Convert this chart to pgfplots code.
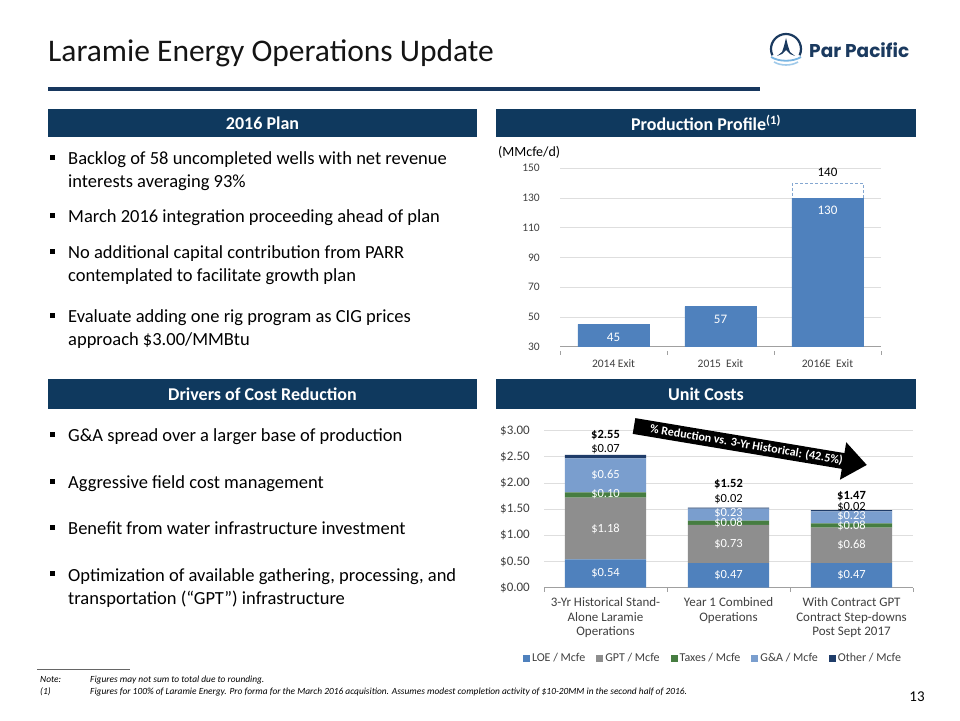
\documentclass[border=0pt]{standalone}
\usepackage{pgfplots}
\pgfplotsset{compat=1.18}
\usepackage{fontspec}
\setmainfont{Carlito}
\newfontfamily\logofont{Poppins}
\definecolor{navy}{RGB}{15,57,94}
\definecolor{titleline}{RGB}{23,55,94}
\definecolor{logonavy}{RGB}{27,58,95}
\definecolor{logolight}{RGB}{120,180,225}
\definecolor{barblue}{RGB}{79,129,189}
\definecolor{loe}{RGB}{79,129,189}
\definecolor{gpt}{RGB}{142,142,142}
\definecolor{tax}{RGB}{70,125,65}
\definecolor{ga}{RGB}{122,158,206}
\definecolor{oth}{RGB}{31,60,105}
\definecolor{gridgray}{RGB}{222,222,222}
\definecolor{axgray}{RGB}{160,160,160}
\definecolor{tickgray}{RGB}{64,64,64}
\newcommand{\fs}[2]{\fontsize{#1}{#2}\selectfont}
\tikzset{
  vl/.style={font=\fontsize{12.5}{14}\selectfont, text=white, inner sep=0pt},
  vb/.style={font=\fontsize{12.5}{14}\selectfont, text=black, inner sep=0pt},
  vt/.style={font=\bfseries\fontsize{12.5}{14}\selectfont, text=black, inner sep=0pt},
  bt/.style={anchor=base west, inner sep=0pt, font=\fontsize{18.5}{22}\selectfont},
  hd/.style={text=white, font=\bfseries\fontsize{18}{21}\selectfont},
  fn/.style={anchor=base west, inner sep=0pt, font=\itshape\fontsize{9.4}{11}\selectfont}
}
\pgfplotsset{sqlegend/.style={legend image code/.code={\fill[##1] (0pt,-3.5pt) rectangle (7pt,3.5pt);}}}
\begin{document}
\begin{tikzpicture}[x=1pt,y=1pt]
\fill[white] (0,0) rectangle (960,720);
% Title
\node[anchor=base west, inner sep=0, font=\fs{31.5}{36}, text=black!92] at (48,720-62) {Laramie Energy Operations Update};
\fill[titleline] (48,720-87) rectangle (760,720-91);
% Logo
\draw[logonavy, line width=2.2pt] (786,720-49) ++(205:15) arc (205:-25:15);
\fill[logonavy] (777,720-56) -- (782,720-52) -- (784,720-46) -- (786,720-38) -- (788,720-46) -- (790,720-52) -- (795,720-56) -- (790,720-54) -- (786,720-50) -- (782,720-54) -- cycle;
\draw[logolight, line width=1.8pt] (771,720-57) .. controls (779,720-62) and (793,720-62) .. (801,720-57);
\draw[logolight!70, line width=1.6pt] (774,720-62) .. controls (781,720-66) and (791,720-66) .. (798,720-62);
\node[anchor=base west, inner sep=0, font=\logofont\bfseries\fs{18.5}{21}, text=logonavy] at (809,720-58) {Par Pacific};
% Header boxes
\fill[navy] (48,720-109) rectangle (477,720-137);
\node[hd] at (262.5,720-123) {2016 Plan};
\fill[navy] (496,720-109) rectangle (916,720-137);
\node[hd] at (706,720-123) {Production Profile\textsuperscript{(1)}};
\fill[navy] (48,720-379) rectangle (477,720-409);
\node[hd] at (262.5,720-394) {Drivers of Cost Reduction};
\fill[navy] (496,720-379) rectangle (916,720-409);
\node[hd] at (706,720-394) {Unit Costs};
% Bullets (2016 Plan)
\fill (50,720-160) rectangle +(5,5);
\node[bt] at (68,720-165) {Backlog of 58 uncompleted wells with net revenue};
\node[bt] at (68,720-188) {interests averaging 93\%};
\fill (50,720-218) rectangle +(5,5);
\node[bt] at (68,720-223) {March 2016 integration proceeding ahead of plan};
\fill (50,720-254) rectangle +(5,5);
\node[bt] at (68,720-259) {No additional capital contribution from PARR};
\node[bt] at (68,720-282) {contemplated to facilitate growth plan};
\fill (50,720-318) rectangle +(5,5);
\node[bt] at (68,720-323) {Evaluate adding one rig program as CIG prices};
\node[bt] at (68,720-346) {approach \$3.00/MMBtu};
% Drivers
\fill (50,720-437) rectangle +(5,5);
\node[bt] at (68,720-442) {G\&A spread over a larger base of production};
\fill (50,720-484) rectangle +(5,5);
\node[bt] at (68,720-489) {Aggressive field cost management};
\fill (50,720-530) rectangle +(5,5);
\node[bt] at (68,720-535) {Benefit from water infrastructure investment};
\fill (50,720-576) rectangle +(5,5);
\node[bt] at (68,720-581) {Optimization of available gathering, processing, and};
\node[bt] at (68,720-604) {transportation (“GPT”) infrastructure};
% Production profile chart
\node[anchor=west, inner sep=0, font=\fs{14}{16}] at (498,720-152) {(MMcfe/d)};
\begin{axis}[
  at={(560pt,373.3pt)}, anchor=south west, scale only axis,
  width=321pt, height=178.4pt,
  xmin=-0.5, xmax=2.5, ymin=30, ymax=150,
  ybar, bar width=0.664, clip=false,
  ytick={30,50,70,90,110,130,150},
  yticklabels={30,50,70,90,110,130,150},
  xtick={0,1,2}, xticklabels={2014 Exit,2015\ \ Exit,2016E\ \ Exit},
  minor xtick={-0.5,0.5,1.5,2.5},
  axis x line*=bottom, axis y line*=left,
  y axis line style={draw=none},
  x axis line style={draw=axgray, line width=0.8pt},
  major tick style={draw=none},
  minor x tick style={draw=axgray, line width=0.8pt, yshift=-4pt},
  minor tick length=4pt,
  ymajorgrids, grid style={draw=gridgray, line width=0.8pt},
  yticklabel style={font=\fs{11.5}{13}, text=tickgray, inner sep=0pt, anchor=east, xshift=-20pt},
  xticklabel style={font=\fs{11.5}{13}, text=tickgray, inner sep=0pt, anchor=north, yshift=-8pt},
]
\addplot[bar shift=0pt, fill=white, draw=barblue!70, densely dashed, line width=0.7pt] coordinates {(2,140)};
\addplot[bar shift=0pt, fill=barblue, draw=barblue, line width=0.5pt] coordinates {(0,45) (1,57) (2,130)};
\node[text=white, font=\fs{13}{15}] at (axis cs:0,36) {45};
\node[text=white, font=\fs{13}{15}] at (axis cs:1,48.7) {57};
\node[text=white, font=\fs{13}{15}] at (axis cs:2,121.5) {130};
\node[text=black, font=\fs{13}{15}] at (axis cs:2,147.5) {140};
\end{axis}
% Unit costs chart
\begin{axis}[
  at={(544pt,132.3pt)}, anchor=south west, scale only axis,
  width=369pt, height=157pt,
  xmin=-0.5, xmax=2.5, ymin=0, ymax=3,
  ybar stacked, bar width=0.66, clip=false,
  ytick={0,0.5,1,1.5,2,2.5,3},
  yticklabels={\$0.00,\$0.50,\$1.00,\$1.50,\$2.00,\$2.50,\$3.00},
  xtick={0,1,2},
  xticklabels={{3-Yr Historical Stand-\\Alone Laramie\\Operations},{Year 1 Combined\\Operations},{With Contract GPT\\Contract Step-downs\\Post Sept 2017}},
  minor xtick={-0.5,0.5,1.5,2.5},
  axis x line*=bottom, axis y line*=left,
  y axis line style={draw=none},
  x axis line style={draw=axgray, line width=0.8pt},
  major tick style={draw=none},
  minor x tick style={draw=axgray, line width=0.8pt, yshift=-4pt},
  minor tick length=4pt,
  ymajorgrids, grid style={draw=gridgray, line width=0.8pt},
  yticklabel style={font=\fs{13}{15}, text=tickgray, inner sep=0pt, anchor=east, xshift=-14pt},
  xticklabel style={font=\fs{13}{14.5}, text=tickgray, inner sep=0pt, anchor=north, yshift=-10pt, align=center},
  sqlegend,
  legend columns=5,
  legend style={at={(0.458,-0.448)}, anchor=center, draw=none, fill=none,
    font=\fs{12}{14}, text=tickgray,
    /tikz/every even column/.append style={column sep=9pt}},
]
\addplot[fill=loe, draw=none] coordinates {(0,0.54) (1,0.47) (2,0.47)};
\addlegendentry{LOE / Mcfe}
\addplot[fill=gpt, draw=none] coordinates {(0,1.18) (1,0.73) (2,0.68)};
\addlegendentry{GPT / Mcfe}
\addplot[fill=tax, draw=none] coordinates {(0,0.10) (1,0.08) (2,0.08)};
\addlegendentry{Taxes / Mcfe}
\addplot[fill=ga, draw=none] coordinates {(0,0.65) (1,0.23) (2,0.23)};
\addlegendentry{G\&A / Mcfe}
\addplot[fill=oth, draw=none] coordinates {(0,0.07) (1,0.02) (2,0.02)};
\addlegendentry{Other / Mcfe}
\end{axis}
% Overlay axis for value labels (same geometry)
\begin{axis}[
  at={(544pt,132.3pt)}, anchor=south west, scale only axis,
  width=369pt, height=157pt,
  xmin=-0.5, xmax=2.5, ymin=0, ymax=3,
  hide axis, clip=false,
]
\node[vl] at (axis cs:0,0.27) {\$0.54};
\node[vl] at (axis cs:0,1.13) {\$1.18};
\node[vl] at (axis cs:0,1.78) {\$0.10};
\node[vl] at (axis cs:0,2.15) {\$0.65};
\node[vl] at (axis cs:1,0.235) {\$0.47};
\node[vl] at (axis cs:1,0.835) {\$0.73};
\node[vl] at (axis cs:1,1.24) {\$0.08};
\node[vl] at (axis cs:1,1.43) {\$0.23};
\node[vl] at (axis cs:2,0.235) {\$0.47};
\node[vl] at (axis cs:2,0.81) {\$0.68};
\node[vl] at (axis cs:2,1.18) {\$0.08};
\node[vl] at (axis cs:2,1.37) {\$0.23};
\node[vb] at (axis cs:0,2.65) {\$0.07};
\node[vb] at (axis cs:1,1.70) {\$0.02};
\node[vb] at (axis cs:2,1.54) {\$0.02};
\node[vt] at (axis cs:0,2.92) {\$2.55};
\node[vt] at (axis cs:1,1.98) {\$1.52};
\node[vt] at (axis cs:2,1.75) {\$1.47};
\end{axis}
% Arrow
\begin{scope}[shift={(634,720-426)}, rotate=-9.5]
\fill[black] (0,8) -- (212,8) -- (212,19) -- (236,0) -- (212,-19) -- (212,-8) -- (0,-8) -- cycle;
\node[rotate=-9.5, text=white, font=\bfseries\fs{12}{14}, inner sep=0] at (114,0) {\% Reduction vs. 3-Yr Historical: (42.5\%)};
\end{scope}
% Footnotes
\draw[black!60, line width=0.5pt] (37,720-669) -- (130,720-669);
\node[fn] at (40,720-682) {Note:};
\node[fn] at (90,720-682) {Figures may not sum to total due to rounding.};
\node[fn] at (40,720-694) {(1)};
\node[fn] at (90,720-694) {Figures for 100\% of Laramie Energy. Pro forma for the March 2016 acquisition. Assumes modest completion activity of \$10-20MM in the second half of 2016.};
% Page number
\node[anchor=base, inner sep=0, font=\fs{15}{17}] at (917,720-701) {13};
\end{tikzpicture}
\end{document}
